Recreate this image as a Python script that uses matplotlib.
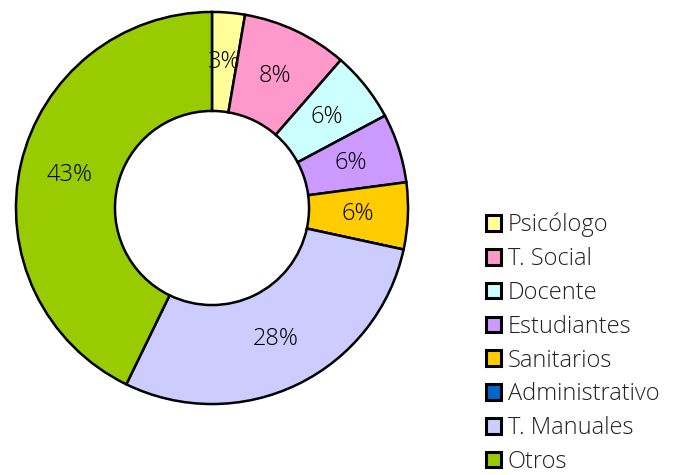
import matplotlib.pyplot as plt
import numpy as np

categories = ['Psicólogo', 'T. Social', 'Docente', 'Estudiantes', 'Sanitarios',
              'Administrativo', 'T. Manuales', 'Otros']
values = [2.7, 8.7, 5.8, 5.7, 5.5, 0.0, 28.8, 42.8]
pct_labels = ['3%', '8%', '6%', '6%', '6%', '', '28%', '43%']
colors = ['#FFFF99', '#FF99CC', '#CCFFFF', '#CC99FF', '#FFCC00',
          '#0066CC', '#CCCCFF', '#99CC00']

plt.rcParams['font.family'] = ['Open Sans', 'DejaVu Sans']
plt.rcParams['font.weight'] = 'light'

W, H = 677, 475
fig = plt.figure(figsize=(W / 100, H / 100), dpi=100)
cx, cy, R = 212, 208, 198
ax = fig.add_axes([(cx - R) / W, (H - cy - R) / H, 2 * R / W, 2 * R / H])

wedges, _ = ax.pie(values, colors=colors, startangle=90, counterclock=False,
                   radius=1.0, wedgeprops=dict(width=0.505, edgecolor='black', linewidth=1.8))
ax.set_xlim(-1.01, 1.01)
ax.set_ylim(-1.01, 1.01)
ax.set_aspect('equal')
ax.axis('off')

for w, lab in zip(wedges, pct_labels):
    if not lab:
        continue
    ang = np.deg2rad((w.theta1 + w.theta2) / 2)
    r = 0.745
    ax.text(r * np.cos(ang), r * np.sin(ang), lab, ha='center', va='center',
            fontsize=17, color='black')

leg = fig.legend(wedges, categories, loc='upper left',
                 bbox_to_anchor=(474 / W, 1 - 201 / H), frameon=False,
                 fontsize=17, handlelength=0.65, handleheight=0.65,
                 handletextpad=0.28, labelspacing=0.415, borderpad=0)
for t in leg.get_texts():
    t.set_color('#222222')
for h in leg.legend_handles:
    h.set_linewidth(2.2)

fig.savefig('out.png', dpi=100)
